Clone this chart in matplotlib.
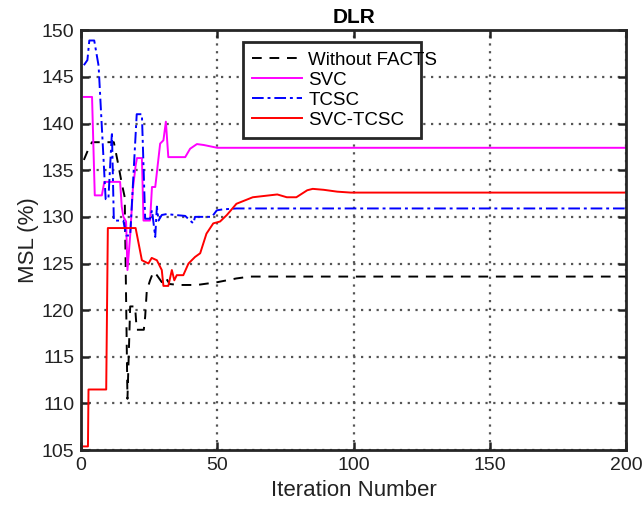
import matplotlib
matplotlib.use("Agg")
import matplotlib.pyplot as plt
from matplotlib.patches import Rectangle

plt.rcParams['font.family'] = ['Liberation Sans', 'DejaVu Sans']

# Without FACTS
it_base = [1, 3, 4, 12, 13.7, 14.9, 16, 17, 18, 19.8, 20.4, 23, 23.5, 24.1, 25.3, 26.5, 27.8,
           29.6, 31, 32.5, 36, 42.5, 50, 57, 62, 200]
msl_base = [136.1, 137.5, 138.0, 138.0, 135.5, 133.6, 132.1, 110.5, 120.4, 120.4, 117.9, 117.9,
            119.3, 122.1, 123.2, 124.1, 123.75, 123.0, 123.5, 122.8, 122.7, 122.7, 123.0, 123.4,
            123.6, 123.6]

# SVC
it_svc = [1, 4, 5, 7.6, 8.5, 14.3, 14.9, 15.5, 16.5, 17, 18, 19, 20, 20.5, 22.3, 22.9, 25.3, 26,
          27.2, 29, 30.2, 31.1, 32, 38.2, 40, 42.5, 45, 50, 200]
msl_svc = [142.85, 142.85, 132.3, 132.3, 133.75, 133.75, 131.1, 130.0, 129.5, 124.3, 128.0,
           133.0, 135.5, 136.3, 136.3, 129.6, 129.6, 133.2, 133.2, 137.85, 138.2, 140.2, 136.4,
           136.4, 137.3, 137.8, 137.7, 137.4, 137.4]

# TCSC
it_tcsc = [1, 2.3, 3, 4.8, 6.4, 9, 10, 11.3, 12, 15.5, 16.5, 18, 20.4, 22.3, 23.5, 25.3, 26,
           27.2, 27.8, 28.4, 29.6, 31.4, 34.5, 38.2, 40, 41.2, 41.8, 45, 48, 49.8, 52, 57, 200]
msl_tcsc = [146.25, 146.8, 148.9, 148.9, 146.2, 131.9, 131.9, 139.1, 129.6, 129.6, 128.0, 128.0,
            141.0, 141.0, 129.8, 129.8, 130.7, 127.85, 131.1, 129.6, 130.2, 130.3, 130.2, 130.1,
            129.6, 129.3, 130.0, 130.0, 130.0, 130.7, 130.8, 130.9, 130.9]

# SVC-TCSC
it_both = [1, 2.5, 2.7, 9.2, 9.8, 20, 22.3, 24.7, 25.9, 27.8, 29.6, 30.2, 32, 33.3, 34.2, 35.1,
           37.5, 39.4, 41.8, 43.7, 46, 48.5, 51, 53.5, 57, 63, 69, 72, 75.5, 79, 83, 85, 89, 94,
           99, 200]
msl_both = [105.4, 105.4, 111.5, 111.5, 128.8, 128.8, 125.35, 125.0, 125.6, 125.35, 124.3, 122.6,
            122.6, 124.3, 123.2, 123.75, 123.75, 125.0, 125.7, 126.1, 128.2, 129.3, 129.5, 130.2,
            131.4, 132.1, 132.3, 132.4, 132.1, 132.1, 132.85, 133.0, 132.9, 132.7, 132.6, 132.6]

labels = ['Without FACTS', 'SVC', 'TCSC', 'SVC-TCSC']
x_ticks = [0, 50, 100, 150, 200]
y_ticks = [105, 110, 115, 120, 125, 130, 135, 140, 145, 150]

fig = plt.figure(figsize=(6.44, 5.21), dpi=100)
ax = fig.add_axes([0.126, 0.136, 0.846, 0.806])

ax.plot(it_base, msl_base, color='black', linestyle=(0, (5, 4)), linewidth=1.4, label=labels[0])
ax.plot(it_svc, msl_svc, color='#ff00ff', linestyle='-', linewidth=1.4, label=labels[1])
ax.plot(it_tcsc, msl_tcsc, color='#0000ff', linestyle=(0, (6, 2, 1.5, 2)), linewidth=1.4, label=labels[2])
ax.plot(it_both, msl_both, color='#ff0000', linestyle='-', linewidth=1.4, label=labels[3])

ax.set_xlim(0, 200)
ax.set_ylim(105, 150)
ax.set_xticks(x_ticks)
ax.set_yticks(y_ticks)
ax.tick_params(direction='in', length=6, width=1.8, labelsize=14, top=True, right=True,
               colors='#222222', labelcolor='#222222', pad=5)
ax.grid(True, linestyle=(0, (1, 2.5)), color='#555555', linewidth=1.6)
for s in ax.spines.values():
    s.set_linewidth(2.0)
    s.set_color('#262626')

ax.set_xlabel('Iteration Number', fontsize=16, color='#222222', labelpad=4)
ax.set_ylabel('MSL (%)', fontsize=16, color='#222222', labelpad=2)
ax.set_title('DLR', fontsize=15, fontweight='bold', pad=5)

leg = ax.legend(loc='upper left', bbox_to_anchor=(0.307, 0.958), fontsize=13.5, frameon=False,
                handlelength=2.67, borderpad=0.2, labelspacing=0.15, handletextpad=0.32,
                borderaxespad=0)
ax.add_patch(Rectangle((0.297, 0.743), 0.327, 0.228, transform=ax.transAxes, facecolor='white',
                       edgecolor='#262626', linewidth=2.0, zorder=4))
leg.set_zorder(5)

fig.savefig('out.png', dpi=100)
